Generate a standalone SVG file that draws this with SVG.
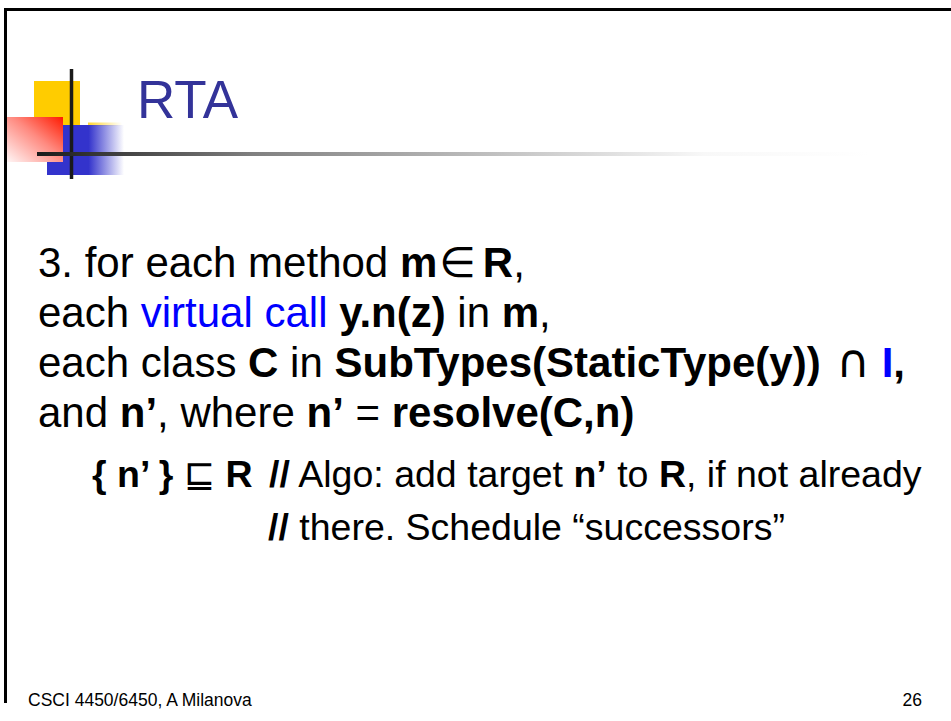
<svg xmlns="http://www.w3.org/2000/svg" width="951" height="721" viewBox="0 0 951 721">
  <defs>
    <linearGradient id="redFade" x1="1" y1="0" x2="0" y2="1">
      <stop offset="0" stop-color="#ff1a00"/>
      <stop offset="0.45" stop-color="#ff8a80"/>
      <stop offset="1" stop-color="#fff6f6"/>
    </linearGradient>
    <linearGradient id="blueFade" x1="0" y1="0" x2="1" y2="0">
      <stop offset="0" stop-color="#3333cc"/>
      <stop offset="0.54" stop-color="#3333cc"/>
      <stop offset="1" stop-color="#3333cc" stop-opacity="0"/>
    </linearGradient>
    <linearGradient id="yellowFade" x1="0" y1="0" x2="1" y2="0">
      <stop offset="0" stop-color="#ffcc00" stop-opacity="0.8"/>
      <stop offset="1" stop-color="#ffcc00" stop-opacity="0"/>
    </linearGradient>
    <linearGradient id="ruleFade" gradientUnits="userSpaceOnUse" x1="37" y1="0" x2="870" y2="0">
      <stop offset="0" stop-color="#1a1a1a"/>
      <stop offset="0.26" stop-color="#808080"/>
      <stop offset="0.8" stop-color="#f8f8f8"/>
      <stop offset="1" stop-color="#ffffff"/>
    </linearGradient>
    <style>
      .txt { font-family: "Liberation Sans", Arial, sans-serif; fill: #000; }
      .big { font-size: 42px; }
      .mid { font-size: 37.5px; }
      .b { font-weight: bold; }
      .blue { fill: #0000ff; }
      .sym { font-family: "DejaVu Sans", sans-serif; font-weight: normal; }
      .title { font-family: "Liberation Sans", Arial, sans-serif; font-size: 53px; fill: #333399; }
      .foot { font-family: "Liberation Sans", Arial, sans-serif; font-size: 17.5px; fill: #000; }
    </style>
  </defs>

  <rect x="0" y="0" width="951" height="721" fill="#ffffff"/>

  <!-- slide frame -->
  <g id="frame" stroke="#000" stroke-width="3" fill="none">
    <line x1="4" y1="9.5" x2="951" y2="9.5"/>
    <line x1="5.5" y1="8" x2="5.5" y2="703"/>
  </g>

  <!-- title decoration: coloured squares and cross lines -->
  <g id="logo">
    <rect x="34" y="81" width="46" height="44" fill="#ffcc00"/>
    <rect x="88" y="122.5" width="34" height="3" fill="url(#yellowFade)"/>
    <rect x="47" y="125" width="77" height="50" fill="url(#blueFade)"/>
    <rect x="7" y="117" width="56" height="45" fill="url(#redFade)"/>
    <line x1="71.5" y1="69" x2="71.5" y2="179" stroke="#1a1a1a" stroke-width="3.5"/>
    <line x1="37" y1="154" x2="870" y2="154" stroke="url(#ruleFade)" stroke-width="4"/>
  </g>

  <g id="title">
    <text class="title" x="137" y="118">RTA</text>
  </g>

  <!-- body rule text -->
  <g id="body" class="txt">
    <text class="big" x="38" y="277">3. for each method <tspan class="b">m</tspan><tspan class="sym" dx="2">∈</tspan><tspan class="b" dx="7">R</tspan>,</text>
    <text class="big" x="38" y="327">each <tspan class="blue">virtual call</tspan> <tspan class="b">y.n(z)</tspan> in <tspan class="b">m</tspan>,</text>
    <text class="big" x="38" y="377">each class <tspan class="b">C</tspan> in <tspan class="b">SubTypes(StaticType(y))</tspan> <tspan class="sym" dx="4" font-size="46">∩</tspan> <tspan class="b blue">I</tspan><tspan class="b">,</tspan></text>
    <text class="big" x="38" y="427">and <tspan class="b">n’</tspan>, where <tspan class="b">n’</tspan> = <tspan class="b">resolve(C,n)</tspan></text>
    <text class="mid" x="92" y="487"><tspan class="b">{ n’ }</tspan> <tspan class="sym">⊑</tspan> <tspan class="b">R</tspan> <tspan class="b" dx="6">//</tspan> Algo: add target <tspan class="b">n’</tspan> to <tspan class="b">R</tspan>, if not already</text>
    <text class="mid" x="268" y="540"><tspan class="b">//</tspan> there. Schedule “successors”</text>
  </g>

  <g id="footer">
    <text class="foot" x="28" y="706">CSCI 4450/6450, A Milanova</text>
    <text class="foot" x="922" y="706" text-anchor="end">26</text>
  </g>
</svg>
